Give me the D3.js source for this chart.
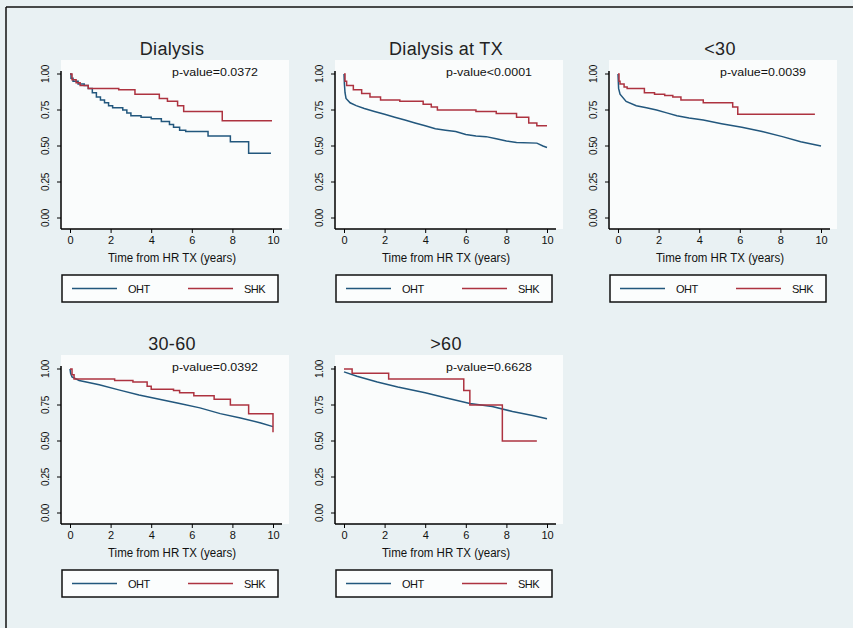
<html>
<head>
<style>
  body { margin: 0; background: #e9f1f3; font-family: "Liberation Sans", Arial, sans-serif; }
</style>
</head>
<body>
<script src="https://d3js.org/d3.v7.min.js"></script>
<div id="graph_item"></div>
<script>
// tick labels
var xTicks = [0, 2, 4, 6, 8, 10];
var yTicks = [0, 0.25, 0.5, 0.75, 1];
var legendLabels = ["OHT", "SHK"];

// Kaplan-Meier curves: [years, survival]
var dialysisOHT = [[0,1.0],[0.05,0.97],[0.15,0.95],[0.4,0.93],[0.7,0.92],[0.9,0.90],[1.1,0.87],[1.3,0.84],[1.5,0.82],[1.7,0.80],[1.9,0.78],[2.1,0.765],[2.6,0.75],[2.8,0.73],[3.0,0.71],[3.5,0.70],[4.0,0.69],[4.5,0.67],[4.9,0.65],[5.1,0.63],[5.4,0.61],[5.7,0.60],[6.8,0.57],[7.9,0.53],[8.8,0.45],[9.9,0.45]];
var dialysisSHK = [[0,1.0],[0.1,0.96],[0.3,0.94],[0.5,0.92],[0.9,0.90],[2.4,0.89],[3.2,0.86],[4.4,0.83],[4.8,0.81],[5.3,0.78],[5.6,0.74],[7.5,0.675],[9.95,0.675]];

var dialysisTxOHT = [[0,1.0],[0.02,0.93],[0.05,0.87],[0.1,0.83],[0.3,0.80],[0.6,0.78],[1.0,0.76],[1.5,0.74],[2.0,0.72],[2.5,0.70],[3.0,0.68],[3.5,0.66],[4.0,0.64],[4.5,0.62],[5.0,0.61],[5.5,0.60],[6.0,0.58],[6.5,0.57],[7.0,0.565],[7.5,0.55],[8.0,0.535],[8.5,0.525],[9.5,0.52],[9.8,0.50],[10,0.49]];
var dialysisTxSHK = [[0,1.0],[0.05,0.95],[0.13,0.92],[0.46,0.89],[0.87,0.865],[1.28,0.84],[1.8,0.82],[2.75,0.81],[3.9,0.79],[4.3,0.77],[4.6,0.75],[6.5,0.74],[7.5,0.725],[8.5,0.70],[9.1,0.66],[9.5,0.64],[10,0.64]];

var under30OHT = [[0,1.0],[0.03,0.9],[0.1,0.86],[0.4,0.81],[0.9,0.78],[1.4,0.765],[1.9,0.75],[2.4,0.73],[2.9,0.71],[3.5,0.695],[4.2,0.68],[5.1,0.655],[6.1,0.63],[7.1,0.60],[8.1,0.565],[9.0,0.53],[10,0.50]];
var under30SHK = [[0,1.0],[0.05,0.95],[0.1,0.93],[0.3,0.91],[0.45,0.90],[1.3,0.87],[1.8,0.86],[2.3,0.85],[2.7,0.84],[3.1,0.82],[4.2,0.80],[5.65,0.77],[5.9,0.72],[9.7,0.72]];

var mid3060OHT = [[0,1.0],[0.03,0.97],[0.1,0.945],[0.45,0.92],[1.44,0.89],[2.4,0.855],[3.4,0.82],[4.4,0.79],[5.4,0.76],[6.4,0.73],[7.4,0.69],[8.4,0.66],[9.4,0.625],[10,0.60]];
var mid3060SHK = [[0,1.0],[0.1,0.96],[0.2,0.93],[2.2,0.92],[3.1,0.91],[3.8,0.88],[4.0,0.86],[5.1,0.85],[5.4,0.835],[6.1,0.815],[7.1,0.79],[7.9,0.75],[8.8,0.69],[10,0.56]];

var over60OHT = [[0,0.98],[0.64,0.95],[1.64,0.91],[2.65,0.875],[4.0,0.835],[5.0,0.80],[6.2,0.76],[7.3,0.74],[8.3,0.705],[9.35,0.675],[10,0.655]];
var over60SHK = [[0,1.0],[0.4,0.97],[2.2,0.93],[5.9,0.85],[6.2,0.75],[7.8,0.50],[9.5,0.50]];

var titles = ["Dialysis", "Dialysis at TX", "<30", "30-60", ">60"];
var pvalues = ["p-value=0.0372", "p-value<0.0001", "p-value=0.0039", "p-value=0.0392", "p-value=0.6628"];
var ohtSeries = [dialysisOHT, dialysisTxOHT, under30OHT, mid3060OHT, over60OHT];
var shkSeries = [dialysisSHK, dialysisTxSHK, under30SHK, mid3060SHK, over60SHK];

var colorOHT = "#22577d", colorSHK = "#ad3340";

var svg = d3.select("#graph_item").append("svg")
  .attr("width", 853).attr("height", 628);

// outer frame (top and left edges visible)
svg.append("line").attr("x1", 6).attr("x2", 853).attr("y1", 7).attr("y2", 7)
  .attr("stroke", "#111").attr("stroke-width", 1.5);
svg.append("line").attr("x1", 6).attr("x2", 6).attr("y1", 7).attr("y2", 628)
  .attr("stroke", "#111").attr("stroke-width", 1.5);

titles.forEach(function(title, i){
  var col = i % 3, row = Math.floor(i / 3);
  var x0 = 61 + 274 * col;       // y axis position
  var y0 = 74 + 295 * row;       // position of 1.00
  var g = svg.append("g").attr("transform", "translate(" + x0 + "," + y0 + ")");

  var x = d3.scaleLinear().domain([0, 10]).range([9, 212]);
  var y = d3.scaleLinear().domain([0, 1]).range([144, 0]);

  // plot region
  g.append("rect").attr("x", 0).attr("y", -14).attr("width", 228).attr("height", 169)
    .attr("fill", "#fafcfc");

  // title
  g.append("text").attr("x", 111).attr("y", -19)
    .attr("text-anchor", "middle")
    .style("font-size", "18px").style("letter-spacing", "0.3px").style("fill", "#222")
    .text(title);

  // x axis
  var xa = g.append("g").attr("transform", "translate(0,155)")
    .call(d3.axisBottom(x).tickValues(xTicks).tickSize(4).tickPadding(3));
  xa.select(".domain").attr("d", "M0,0H221").attr("stroke-width", 1.5);
  xa.selectAll("text").style("font-size", "11px").style("font-family", "Liberation Sans, Arial").attr("fill", "#111");

  // y axis
  var ya = g.append("g")
    .call(d3.axisLeft(y).tickValues(yTicks).tickSize(4).tickFormat(d3.format(".2f")));
  ya.select(".domain").attr("d", "M0,-3V155").attr("stroke-width", 1.5);
  ya.selectAll("text")
    .attr("transform", function(d){ return "translate(-16," + y(d) + ") rotate(-90)"; })
    .attr("x", 0).attr("y", 0).attr("dy", "0.35em")
    .attr("text-anchor", "middle")
    .style("font-size", "10px").style("letter-spacing", "-0.4px")
    .style("font-family", "Liberation Sans, Arial").attr("fill", "#111");
  ya.selectAll(".tick").attr("transform", null);
  ya.selectAll(".tick line").attr("y1", function(d){ return y(d); }).attr("y2", function(d){ return y(d); });

  // axis title
  g.append("text").attr("x", 111).attr("y", 188)
    .attr("text-anchor", "middle")
    .attr("textLength", 128).attr("lengthAdjust", "spacingAndGlyphs")
    .style("font-size", "12px").style("fill", "#111")
    .text("Time from HR TX (years)");

  // p-value
  g.append("text").attr("x", 111).attr("y", 2)
    .attr("textLength", 86).attr("lengthAdjust", "spacingAndGlyphs")
    .style("font-size", "11px").style("fill", "#111")
    .text(pvalues[i]);

  // curves
  var stepLine = d3.line().x(function(d){ return x(d[0]); }).y(function(d){ return y(d[1]); })
    .curve(d3.curveStepAfter);
  var smoothLine = d3.line().x(function(d){ return x(d[0]); }).y(function(d){ return y(d[1]); });

  g.append("path").attr("d", (i === 0 ? stepLine : smoothLine)(ohtSeries[i]))
    .attr("fill", "none").attr("stroke", colorOHT).attr("stroke-width", 1.5);
  g.append("path").attr("d", stepLine(shkSeries[i]))
    .attr("fill", "none").attr("stroke", colorSHK).attr("stroke-width", 1.5);

  // legend
  var lg = g.append("g").attr("transform", "translate(1,201)");
  lg.append("rect").attr("width", 216).attr("height", 27)
    .attr("fill", "#fbfdfd").attr("stroke", "#111").attr("stroke-width", 1.5);
  [colorOHT, colorSHK].forEach(function(c, k){
    var lx = 10 + k * 116;
    lg.append("line").attr("x1", lx).attr("x2", lx + 45).attr("y1", 13.5).attr("y2", 13.5)
      .attr("stroke", c).attr("stroke-width", 1.5);
    lg.append("text").attr("x", lx + 56).attr("y", 17.5)
      .style("font-size", "11px").style("letter-spacing", "-0.5px").style("fill", "#111")
      .text(legendLabels[k]);
  });
});
</script>
</body>
</html>
